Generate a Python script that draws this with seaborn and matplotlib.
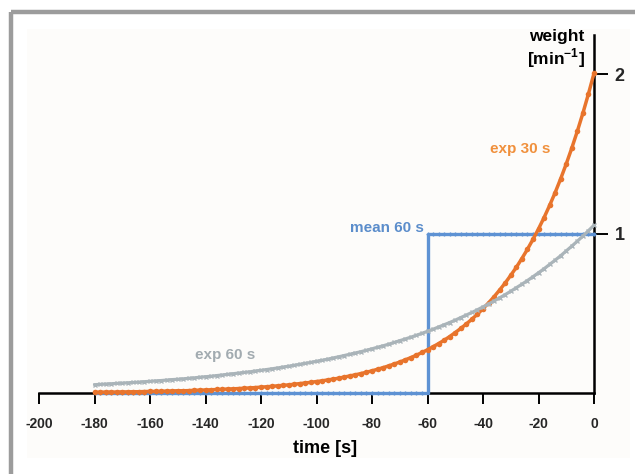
import matplotlib
matplotlib.use("Agg")
import matplotlib.pyplot as plt
import seaborn as sns
from matplotlib.lines import Line2D
from matplotlib.patches import Rectangle

# time axis (s), one sample every 2 s
time_s = list(range(-180, 1, 2))

# exponential weighting, tau = 60 s  [1/min]
exp60 = [0.052, 0.054, 0.056, 0.058, 0.060, 0.062, 0.064, 0.066, 0.068, 0.071,
         0.073, 0.076, 0.078, 0.081, 0.084, 0.086, 0.089, 0.092, 0.095, 0.099,
         0.102, 0.105, 0.109, 0.113, 0.117, 0.121, 0.125, 0.129, 0.133, 0.138,
         0.142, 0.147, 0.152, 0.157, 0.163, 0.168, 0.174, 0.180, 0.186, 0.192,
         0.199, 0.205, 0.212, 0.220, 0.227, 0.235, 0.243, 0.251, 0.259, 0.268,
         0.277, 0.287, 0.296, 0.306, 0.317, 0.328, 0.339, 0.350, 0.362, 0.374,
         0.387, 0.400, 0.414, 0.428, 0.442, 0.457, 0.473, 0.489, 0.505, 0.522,
         0.540, 0.558, 0.577, 0.597, 0.617, 0.638, 0.660, 0.682, 0.705, 0.729,
         0.754, 0.779, 0.806, 0.833, 0.861, 0.891, 0.921, 0.952, 0.984, 1.018,
         1.052]

# exponential weighting, tau = 30 s  [1/min]
exp30 = [0.005, 0.005, 0.006, 0.006, 0.006, 0.007, 0.007, 0.008, 0.008, 0.009,
         0.010, 0.010, 0.011, 0.012, 0.013, 0.014, 0.014, 0.015, 0.017, 0.018,
         0.019, 0.020, 0.022, 0.023, 0.025, 0.026, 0.028, 0.030, 0.032, 0.034,
         0.037, 0.039, 0.042, 0.045, 0.048, 0.051, 0.055, 0.059, 0.063, 0.067,
         0.072, 0.076, 0.082, 0.087, 0.093, 0.100, 0.107, 0.114, 0.122, 0.130,
         0.139, 0.149, 0.159, 0.170, 0.182, 0.194, 0.208, 0.222, 0.237, 0.254,
         0.271, 0.290, 0.310, 0.331, 0.354, 0.379, 0.405, 0.433, 0.463, 0.494,
         0.529, 0.565, 0.604, 0.646, 0.690, 0.738, 0.788, 0.843, 0.901, 0.963,
         1.029, 1.100, 1.176, 1.257, 1.344, 1.437, 1.536, 1.642, 1.755, 1.876,
         2.005]

# moving mean over the last 60 s  [1/min]
mean60 = [0.0] * 60 + [1.0] * 31

c_orange = "#E8742C"
c_gray = "#AAB4B9"
c_blue = "#5E92D3"

sns.set_theme(style="white")
plt.rcParams["font.family"] = ["Liberation Sans", "DejaVu Sans"]
plt.rcParams["mathtext.fontset"] = "custom"
plt.rcParams["mathtext.rm"] = "Liberation Sans"
plt.rcParams["mathtext.bf"] = "Liberation Sans:bold"

fig = plt.figure(figsize=(6.35, 4.74), dpi=100)
fig.patch.set_facecolor("white")

# grey frame + off-white panel
fig.patches.append(Rectangle((27 / 635, 1 - 458 / 474), 603 / 635, 429 / 474,
                             transform=fig.transFigure, facecolor="#FDFCFA",
                             edgecolor="none", zorder=-10))
fig.lines.append(Line2D([11 / 635, 11 / 635], [0, 1 - 12 / 474], transform=fig.transFigure,
                        color="#9C9C9C", linewidth=3.2, solid_capstyle="butt", zorder=-5))
fig.lines.append(Line2D([11 / 635, 1], [1 - 12 / 474, 1 - 12 / 474], transform=fig.transFigure,
                        color="#9C9C9C", linewidth=3.2, solid_capstyle="butt", zorder=-5))

ax = fig.add_axes([39 / 635, 1 - 393 / 474, 555 / 635, 358 / 474])
ax.set_zorder(5)
ax.patch.set_alpha(0)

sns.lineplot(x=time_s, y=mean60, ax=ax, color=c_blue, linewidth=2.4,
             drawstyle="steps-post", marker="+", markersize=3.5, markeredgewidth=1.0,
             markeredgecolor=c_blue, zorder=3, clip_on=False)
sns.lineplot(x=time_s, y=exp30, ax=ax, color=c_orange, linewidth=2.5,
             marker="o", markersize=4.0, markeredgewidth=0, markeredgecolor=c_orange,
             zorder=4, clip_on=False)
sns.lineplot(x=time_s, y=exp60, ax=ax, color=c_gray, linewidth=2.3,
             marker="x", markersize=3.4, markeredgewidth=1.0, markeredgecolor=c_gray,
             zorder=5, clip_on=False)

ax.set_xlim(-200, 0)
ax.set_ylim(0, 2.245)

for side in ["top", "left"]:
    ax.spines[side].set_visible(False)
for side in ["bottom", "right"]:
    ax.spines[side].set_color("black")
    ax.spines[side].set_linewidth(1.8)

ax.set_xticks(range(-200, 1, 20))
ax.set_xticklabels([str(v) for v in range(-200, 1, 20)])
ax.tick_params(axis="x", direction="out", length=8, width=1.4, color="black",
               labelsize=10, pad=9, bottom=True)
for lbl in ax.get_xticklabels():
    lbl.set_fontweight("bold")

ax.yaxis.tick_right()
ax.set_yticks([1, 2])
ax.set_yticklabels(["1", "2"])
ax.tick_params(axis="y", direction="out", length=10, width=1.4, color="black",
               labelsize=13, pad=5, right=True, left=False)
for lbl in ax.get_yticklabels():
    lbl.set_fontweight("bold")

ax.set_xlabel("time [s]", fontsize=13, fontweight="bold", color="black")
ax.xaxis.set_label_coords(0.515, -0.13)
ax.set_ylabel("")

ax.text(0.932, 0.995, "weight", transform=ax.transAxes, ha="center", va="center",
        fontsize=12.5, fontweight="bold", color="black")
ax.text(0.932, 0.935, r"[min$^{\mathbf{-1}}$]", transform=ax.transAxes, ha="center",
        va="center", fontsize=12.5, fontweight="bold", color="black")

ax.text(-26.7, 1.53, "exp 30 s", ha="center", va="center", fontsize=11,
        fontweight="bold", color="#F0903C")
ax.text(-61.3, 1.035, "mean 60 s", ha="right", va="center", fontsize=11,
        fontweight="bold", color="#5B8DCB")
ax.text(-133, 0.238, "exp 60 s", ha="center", va="center", fontsize=11,
        fontweight="bold", color="#A2ABB0")

fig.savefig("out.png", dpi=100)
